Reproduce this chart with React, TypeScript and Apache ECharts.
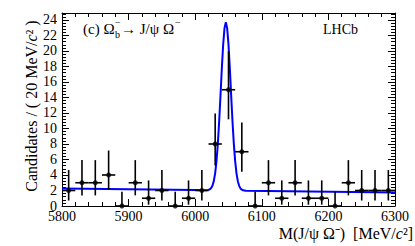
import React, { useEffect, useRef } from "react";
import * as echarts from "echarts";

// Bin centres (MeV/c^2), 20 MeV bins
const binCenters = [5810, 5830, 5850, 5870, 5890, 5910, 5930, 5950, 5970, 5990, 6010, 6030, 6050, 6070, 6090, 6110, 6130, 6150, 6170, 6190, 6210, 6230, 6250, 6270, 6290];
const counts = [2, 3, 3, 4, 0, 3, 1, 2, 0, 1, 2, 8, 15, 7, 0, 3, 1, 3, 1, 1, 0, 3, 2, 2, 2];
// Poisson error band ends
const errLow = [0.71, 1.37, 1.37, 2.09, 0, 1.37, 0.17, 0.71, 0, 0.17, 0.71, 5.23, 11.18, 4.42, 0, 1.37, 0.17, 1.37, 0.17, 0.17, 0, 1.37, 0.71, 0.71, 0.71];
const errHigh = [4.64, 5.92, 5.92, 7.16, 1.84, 5.92, 3.3, 4.64, 1.84, 3.3, 4.64, 11.95, 19.96, 10.77, 1.84, 5.92, 3.3, 5.92, 3.3, 3.3, 1.84, 5.92, 4.64, 4.64, 4.64];
const binHalfWidth = 10;

// Fit curve
const curveMass = [5800, 6000, 6016, 6020, 6022, 6024, 6026, 6028, 6030, 6032, 6034, 6036, 6038, 6040, 6042, 6044, 6046, 6048, 6050, 6052, 6054, 6056, 6058, 6060, 6062, 6064, 6066, 6068, 6070, 6072, 6076, 6300];
const curveValue = [2.25, 2.05, 2.03, 2.08, 2.16, 2.32, 2.64, 3.24, 4.25, 5.82, 8.05, 10.93, 14.29, 17.77, 20.83, 22.95, 23.7, 22.93, 20.81, 17.75, 14.27, 10.91, 8.02, 5.79, 4.21, 3.2, 2.6, 2.27, 2.11, 2.03, 1.97, 1.75];

const xMin = 5800;
const xMax = 6300;
const xStep = 100;
const yMin = 0;
const yMax = 24.9;
const yStep = 2;

const FONT = "Liberation Serif";

export default function App() {
  const ref = useRef<HTMLDivElement>(null);
  useEffect(() => {
    if (!ref.current) return;
    const chart = echarts.init(ref.current, null, { renderer: "svg" });
    const tickStyle = { color: "#000", width: 1 };
    const xCommon = {
      type: "value" as const,
      min: xMin,
      max: xMax,
      interval: xStep,
      axisLine: { show: true, onZero: false, lineStyle: { color: "#000", width: 1 } },
      axisTick: { show: true, inside: true, length: 7, lineStyle: tickStyle },
      minorTick: { show: true, splitNumber: 5, length: 4, lineStyle: tickStyle },
      splitLine: { show: false },
    };
    const yCommon = {
      type: "value" as const,
      min: yMin,
      max: yMax,
      interval: yStep,
      axisLine: { show: true, onZero: false, lineStyle: { color: "#000", width: 1 } },
      axisTick: { show: true, inside: true, length: 7, lineStyle: tickStyle },
      minorTick: { show: true, splitNumber: 5, length: 4, lineStyle: tickStyle },
      splitLine: { show: false },
    };
    const pts = binCenters.map((c, i) => [c, counts[i], errLow[i], errHigh[i]]);
    chart.setOption({
      animation: false,
      backgroundColor: "#fff",
      grid: { left: 62, right: 20, top: 13, bottom: 40, containLabel: false },
      xAxis: [
        {
          ...xCommon,
          position: "bottom",
          axisLabel: {
            show: true,
            color: "#000",
            fontFamily: FONT,
            fontSize: 14,
            lineHeight: 12,
            margin: 4,
            formatter: (v: number) => String(v),
          },
        },
        { ...xCommon, position: "top", axisLabel: { show: false } },
      ],
      yAxis: [
        {
          ...yCommon,
          position: "left",
          axisLabel: {
            show: true,
            color: "#000",
            fontFamily: FONT,
            fontSize: 14,
            lineHeight: 6,
            margin: 5,
            verticalAlign: "middle",
            formatter: (v: number) => (Math.abs(v % yStep) < 1e-6 ? String(v) : ""),
          },
        },
        { ...yCommon, position: "right", axisLabel: { show: false } },
      ],
      series: [
        {
          type: "line",
          xAxisIndex: 0,
          yAxisIndex: 0,
          data: curveMass.map((m, i) => [m, curveValue[i]]),
          showSymbol: false,
          lineStyle: { color: "#0000ff", width: 2 },
          z: 2,
        },
        {
          type: "custom",
          xAxisIndex: 0,
          yAxisIndex: 0,
          data: pts,
          encode: { x: 0, y: 1 },
          z: 3,
          renderItem: (_params: any, api: any) => {
            const x = api.value(0);
            const y = api.value(1);
            const lo = api.value(2);
            const hi = api.value(3);
            const pLo = api.coord([x, lo]);
            const pHi = api.coord([x, hi]);
            const pL = api.coord([x - binHalfWidth, y]);
            const pR = api.coord([x + binHalfWidth, y]);
            const st = { stroke: "#000", lineWidth: 1.6 };
            return {
              type: "group",
              children: [
                { type: "line", shape: { x1: pLo[0], y1: pLo[1], x2: pHi[0], y2: pHi[1] }, style: st },
                { type: "line", shape: { x1: pL[0], y1: pL[1], x2: pR[0], y2: pR[1] }, style: st },
              ],
            };
          },
        },
        {
          type: "scatter",
          xAxisIndex: 0,
          yAxisIndex: 0,
          data: binCenters.map((c, i) => [c, counts[i]]),
          symbol: "circle",
          symbolSize: 5,
          itemStyle: { color: "#000" },
          z: 4,
        },
      ],
      graphic: [
        { type: "text", left: 83, top: 21, style: { text: "(c) Ω", font: `15px "${FONT}"`, fill: "#000" } },
        { type: "text", left: 115, top: 29, style: { text: "b", font: `10px "${FONT}"`, fill: "#000" } },
        { type: "text", left: 115, top: 17, style: { text: "−", font: `10px "${FONT}"`, fill: "#000" } },
        { type: "text", left: 121, top: 21, style: { text: "→ J/ψ Ω", font: `15px "${FONT}"`, fill: "#000" } },
        { type: "text", left: 175, top: 17, style: { text: "−", font: `10px "${FONT}"`, fill: "#000" } },
        { type: "text", left: 323, top: 22, style: { text: "LHCb", font: `14px "${FONT}"`, fill: "#000" } },
        {
          type: "text",
          x: 31,
          y: 106,
          rotation: Math.PI / 2,
          style: {
            text: "{a|Candidates / ( 20 MeV/}{i|c}{a|² )}",
            align: "center",
            verticalAlign: "middle",
            rich: {
              a: { fontFamily: FONT, fontSize: 16, fill: "#000" },
              i: { fontFamily: FONT, fontSize: 16, fontStyle: "italic", fill: "#000" },
            },
          },
        },
        {
          type: "text",
          x: 413,
          y: 233,
          style: {
            text: "{a|M(J/ψ Ω⁻)  [MeV/}{i|c}{a|²]}",
            align: "right",
            verticalAlign: "middle",
            rich: {
              a: { fontFamily: FONT, fontSize: 16, lineHeight: 16, fill: "#000" },
              i: { fontFamily: FONT, fontSize: 16, lineHeight: 16, fontStyle: "italic", fill: "#000" },
            },
          },
        },
      ],
    });
    return () => chart.dispose();
  }, []);
  return (
    <div
      ref={ref}
      style={{ position: "fixed", left: 0, top: 0, width: 415, height: 246, background: "#fff" }}
    />
  );
}
